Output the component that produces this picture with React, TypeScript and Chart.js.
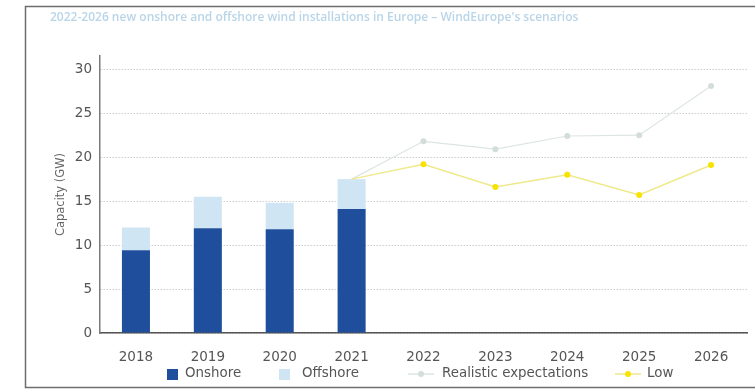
import React, { useEffect, useRef } from "react";
import { Chart, registerables } from "chart.js";

Chart.register(...registerables);

const categories = ["2018", "2019", "2020", "2021", "2022", "2023", "2024", "2025", "2026"];
const onshore = [9.4, 11.9, 11.8, 14.1, null, null, null, null, null];
const offshore = [2.6, 3.6, 3.0, 3.4, null, null, null, null, null];
const realistic = [null, null, null, 17.5, 21.8, 20.9, 22.4, 22.5, 28.1];
const low = [null, null, null, 17.5, 19.2, 16.6, 18.0, 15.7, 19.1];
const yTicks = [0, 5, 10, 15, 20, 25, 30];
const chartTitle = "2022-2026 new onshore and offshore wind installations in Europe \u2013 WindEurope's scenarios";
const yTitle = "Capacity (GW)";

const FONT = "'DejaVu Sans', sans-serif";

const decorPlugin = {
  id: "decor",
  beforeDraw(chart: any) {
    const ctx = chart.ctx;
    ctx.save();
    ctx.fillStyle = "#ffffff";
    ctx.fillRect(0, 0, chart.width, chart.height);
    ctx.strokeStyle = "#6e6e6e";
    ctx.lineWidth = 1.5;
    ctx.strokeRect(25.5, 6.5, 800, 381);
    ctx.fillStyle = "#b9d5e8";
    ctx.font = "600 12px 'Open Sans', sans-serif";
    ctx.textBaseline = "middle";
    ctx.textAlign = "left";
    ctx.fillText(chartTitle, 50, 18);
    ctx.restore();
  },
  afterDraw(chart: any) {
    const ctx = chart.ctx;
    const markX = [167, 279, 408, 615];
    const textX = [185, 302, 442, 647];
    const yc = 374;
    ctx.save();
    ctx.font = "13.4px " + FONT;
    ctx.textBaseline = "middle";
    ctx.textAlign = "left";
    chart.data.datasets.forEach((ds: any, i: number) => {
      const x = markX[i];
      if (ds.type === "bar") {
        ctx.fillStyle = ds.backgroundColor;
        ctx.fillRect(x, yc - 5, 11, 11);
      } else {
        ctx.strokeStyle = ds.borderColor;
        ctx.lineWidth = 1.5;
        ctx.beginPath();
        ctx.moveTo(x, yc);
        ctx.lineTo(x + 26, yc);
        ctx.stroke();
        ctx.fillStyle = ds.pointBackgroundColor;
        ctx.beginPath();
        ctx.arc(x + 13, yc, 3, 0, Math.PI * 2);
        ctx.fill();
      }
      ctx.fillStyle = "#555555";
      ctx.fillText(ds.label, textX[i], yc);
    });
    ctx.restore();
  },
};

export default function App() {
  const canvasRef = useRef<HTMLCanvasElement | null>(null);

  useEffect(() => {
    if (!canvasRef.current) return;
    const pointR = (c: any) => (c.dataIndex === 3 ? 0 : 3);
    const chart = new Chart(canvasRef.current, {
      data: {
        labels: categories,
        datasets: [
          {
            type: "bar",
            label: "Onshore",
            data: onshore,
            backgroundColor: "#1f4f9c",
            stack: "bars",
            categoryPercentage: 1,
            barPercentage: 0.39,
            order: 2,
          },
          {
            type: "bar",
            label: "Offshore",
            data: offshore,
            backgroundColor: "#cfe5f4",
            stack: "bars",
            categoryPercentage: 1,
            barPercentage: 0.39,
            order: 2,
          },
          {
            type: "line",
            label: "Realistic expectations",
            data: realistic,
            borderColor: "#dde5e3",
            pointBackgroundColor: "#d3ddda",
            pointBorderWidth: 0,
            pointRadius: pointR,
            borderWidth: 1.2,
            stack: "real",
            order: 1,
          },
          {
            type: "line",
            label: "Low",
            data: low,
            borderColor: "#eee98a",
            pointBackgroundColor: "#f8e200",
            pointBorderWidth: 0,
            pointRadius: pointR,
            borderWidth: 1.5,
            stack: "low",
            order: 0,
          },
        ],
      } as any,
      options: {
        responsive: false,
        animation: false,
        layout: { padding: { left: 50, top: 56, right: 8, bottom: 0 } },
        plugins: {
          legend: { display: false },
          title: { display: false },
          tooltip: { enabled: false },
        },
        scales: {
          x: {
            stacked: true,
            grid: { display: false },
            border: { display: true, color: "#555555", width: 1.5 },
            ticks: { color: "#555555", font: { family: FONT, size: 13.5 }, padding: 8 },
            afterFit: (s: any) => {
              s.height = 57;
            },
          },
          y: {
            stacked: true,
            min: 0,
            max: 31.5,
            afterBuildTicks: (s: any) => {
              s.ticks = yTicks.map((v) => ({ value: v }));
            },
            grid: { color: "#cdcdcd", lineWidth: 1, drawTicks: false },
            border: { display: true, color: "#7a7a7a", width: 1.5, dash: [1.5, 1.5] },
            ticks: { color: "#555555", font: { family: FONT, size: 13.5 }, padding: 8 },
            title: {
              display: true,
              text: yTitle,
              color: "#666666",
              font: { family: FONT, size: 11.5 },
              padding: { top: 4, bottom: 0 },
            },
            afterFit: (s: any) => {
              s.width = 50;
            },
          },
        },
      } as any,
      plugins: [decorPlugin],
    });
    return () => chart.destroy();
  }, []);

  return (
    <div style={{ position: "absolute", left: 0, top: 0, width: 755, height: 390 }}>
      <canvas ref={canvasRef} width={755} height={390} />
    </div>
  );
}
